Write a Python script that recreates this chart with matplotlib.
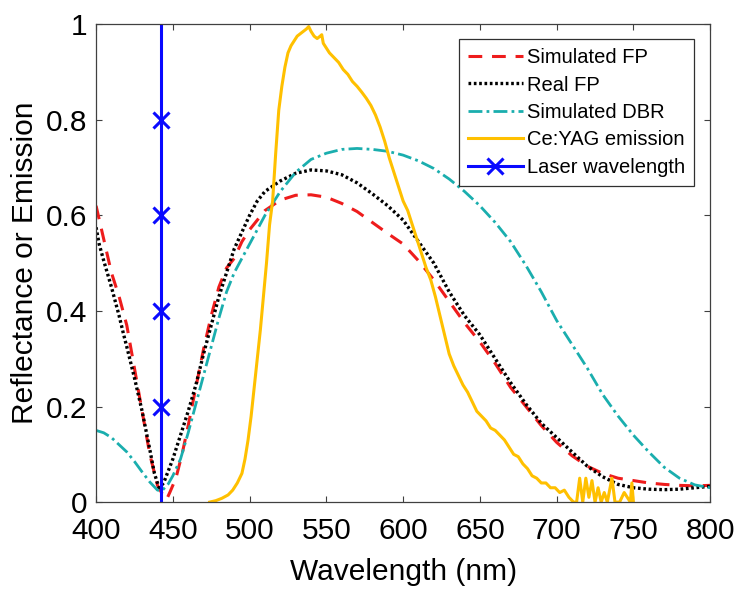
import matplotlib
matplotlib.use("Agg")
import matplotlib.pyplot as plt
from matplotlib.ticker import FuncFormatter

plt.rcParams['font.family'] = ['Liberation Sans', 'DejaVu Sans']

# simulated Fabry-Perot reflectance
fp_sim_wl = [400, 405, 410, 415, 420, 425, 430, 435, 440, 444, 446, 448, 452, 456, 460,
             465, 470, 475, 480, 485, 490, 495, 500, 510, 520, 530, 540, 550, 560, 570,
             580, 590, 600, 610, 620, 630, 640, 650, 660, 670, 680, 690, 700, 710, 720,
             730, 740, 750, 760, 770, 780, 790, 800]
fp_sim = [0.62, 0.55, 0.48, 0.43, 0.37, 0.28, 0.19, 0.10, 0.035, 0.012, 0.006, 0.02, 0.05, 0.10, 0.16,
          0.24, 0.32, 0.39, 0.45, 0.49, 0.51, 0.545, 0.57, 0.61, 0.632, 0.642, 0.643, 0.638, 0.625, 0.608,
          0.585, 0.562, 0.54, 0.505, 0.465, 0.42, 0.375, 0.335, 0.29, 0.24, 0.20, 0.16, 0.125, 0.097, 0.075,
          0.06, 0.05, 0.045, 0.04, 0.037, 0.035, 0.034, 0.035]

# measured Fabry-Perot reflectance
fp_real_wl = [400, 402, 405, 410, 415, 418, 420, 425, 430, 435, 438, 441, 444, 447, 450,
              455, 460, 465, 470, 475, 480, 485, 490, 495, 500, 505, 510, 520, 530, 540,
              550, 560, 570, 580, 590, 600, 610, 620, 630, 640, 650, 660, 670, 680, 690,
              700, 710, 720, 730, 740, 750, 760, 770, 780, 790, 800]
fp_real = [0.575, 0.54, 0.505, 0.45, 0.39, 0.35, 0.325, 0.26, 0.19, 0.11, 0.06, 0.03, 0.04, 0.065, 0.09,
           0.14, 0.19, 0.245, 0.31, 0.37, 0.43, 0.48, 0.53, 0.565, 0.60, 0.63, 0.65, 0.672, 0.688, 0.695,
           0.693, 0.685, 0.668, 0.645, 0.62, 0.59, 0.545, 0.50, 0.44, 0.39, 0.35, 0.30, 0.25, 0.205, 0.165,
           0.135, 0.105, 0.075, 0.053, 0.037, 0.03, 0.027, 0.026, 0.027, 0.03, 0.033]

# simulated DBR reflectance
dbr_wl = [400, 405, 410, 415, 420, 425, 430, 435, 440, 443, 447, 450, 455, 460, 465,
          470, 475, 480, 485, 490, 495, 500, 510, 520, 530, 540, 550, 560, 570, 580,
          590, 600, 610, 620, 630, 640, 650, 660, 670, 680, 690, 700, 710, 720, 730,
          740, 750, 760, 770, 780, 790, 800]
dbr = [0.15, 0.145, 0.135, 0.12, 0.105, 0.085, 0.063, 0.042, 0.025, 0.024, 0.038, 0.055, 0.09, 0.145, 0.205,
       0.265, 0.325, 0.385, 0.44, 0.48, 0.51, 0.54, 0.60, 0.65, 0.69, 0.717, 0.73, 0.738, 0.74, 0.738,
       0.734, 0.726, 0.714, 0.698, 0.676, 0.65, 0.62, 0.585, 0.545, 0.495, 0.44, 0.38, 0.33, 0.28, 0.225,
       0.18, 0.14, 0.105, 0.073, 0.05, 0.036, 0.03]

# Ce:YAG phosphor emission (normalised)
yag_wl = [474, 478, 482, 486, 489, 492, 495, 497, 499, 501, 503, 505, 507, 509, 511,
          513, 515, 517, 519, 521, 523, 525, 527, 529, 531, 533, 535, 537, 538.5, 540,
          542, 544, 546, 547, 548, 550, 552, 555, 558, 561, 564, 567, 570, 573, 576,
          579, 582, 585, 588, 591, 594, 597, 600, 603, 606, 609, 612, 615, 618, 621,
          624, 627, 630, 633, 636, 639, 642, 645, 648, 651, 654, 657, 660, 663, 666,
          669, 672, 675, 678, 681, 684, 687, 690, 693, 696, 699, 702, 705, 708, 711,
          713, 715, 717, 719, 721, 723, 725, 727, 729, 731, 733, 736, 738, 741, 744,
          746, 748, 749, 750]
yag = [0.0, 0.003, 0.008, 0.015, 0.025, 0.04, 0.06, 0.09, 0.13, 0.18, 0.24, 0.30, 0.36, 0.43, 0.50,
       0.58, 0.63, 0.73, 0.82, 0.87, 0.91, 0.94, 0.955, 0.965, 0.975, 0.98, 0.985, 0.99, 0.995, 0.985,
       0.975, 0.97, 0.975, 0.978, 0.96, 0.95, 0.94, 0.93, 0.92, 0.905, 0.895, 0.88, 0.87, 0.858, 0.845,
       0.83, 0.81, 0.785, 0.755, 0.72, 0.69, 0.66, 0.63, 0.61, 0.58, 0.55, 0.52, 0.49, 0.465, 0.43,
       0.39, 0.35, 0.31, 0.285, 0.265, 0.245, 0.23, 0.21, 0.19, 0.18, 0.17, 0.155, 0.15, 0.14, 0.13,
       0.115, 0.10, 0.095, 0.08, 0.07, 0.055, 0.05, 0.04, 0.04, 0.03, 0.03, 0.02, 0.025, 0.01, 0.0,
       0.0, 0.05, 0.0, 0.05, 0.01, 0.045, 0.0, 0.03, 0.0, 0.02, 0.0, 0.05, 0.0, 0.0, 0.02,
       0.01, 0.0, 0.04, 0.0]

# pump laser line
laser_wl = 442
laser_y = [0, 0.2, 0.4, 0.6, 0.8, 1.0]

fig = plt.figure(figsize=(7.39, 5.90), dpi=100)
ax = fig.add_axes([0.130, 0.149, 0.831, 0.810])

ax.plot(fp_sim_wl, fp_sim, color='#ee1c1c', lw=2.2, dashes=(4.5, 3.2), label='Simulated FP')
ax.plot(fp_real_wl, fp_real, color='black', lw=2.4, dashes=(0.8, 0.8), label='Real FP')
ax.plot(dbr_wl, dbr, color='#1aaeae', lw=2.0, dashes=(5, 1.5, 1, 1.5), label='Simulated DBR')
ax.plot(yag_wl, yag, color='#ffc000', lw=2.2, label='Ce:YAG emission')
ax.plot([laser_wl] * len(laser_y), laser_y, color='#0a0aff', lw=2.2, marker='x',
        markersize=11, markeredgewidth=2.2, markevery=[1, 2, 3, 4], label='Laser wavelength')

ax.set_xlim(400, 800)
ax.set_ylim(0, 1)
ax.set_xticks(range(400, 801, 50))
ax.set_yticks([0, 0.2, 0.4, 0.6, 0.8, 1.0])
ax.yaxis.set_major_formatter(FuncFormatter(lambda v, p: '%g' % v))

ax.tick_params(direction='in', top=True, right=True, length=4, width=0.8,
               color='#404040', labelsize=21.5)
ax.tick_params(axis='x', pad=11)
ax.tick_params(axis='y', pad=6)
for s in ax.spines.values():
    s.set_color('#404040')
    s.set_linewidth(0.9)

ax.set_xlabel('Wavelength (nm)', fontsize=21.5, labelpad=9)
ax.set_ylabel('Reflectance or Emission', fontsize=21.5, labelpad=5)

leg = ax.legend(loc='upper right', bbox_to_anchor=(0.974, 0.969), fontsize=14.5,
                fancybox=False, edgecolor='#303030', framealpha=1, borderpad=0.45,
                labelspacing=0.42, handlelength=2.75, handletextpad=0.2, borderaxespad=0)
leg.get_frame().set_linewidth(0.9)

plt.savefig("out.png", dpi=100)
plt.close()
